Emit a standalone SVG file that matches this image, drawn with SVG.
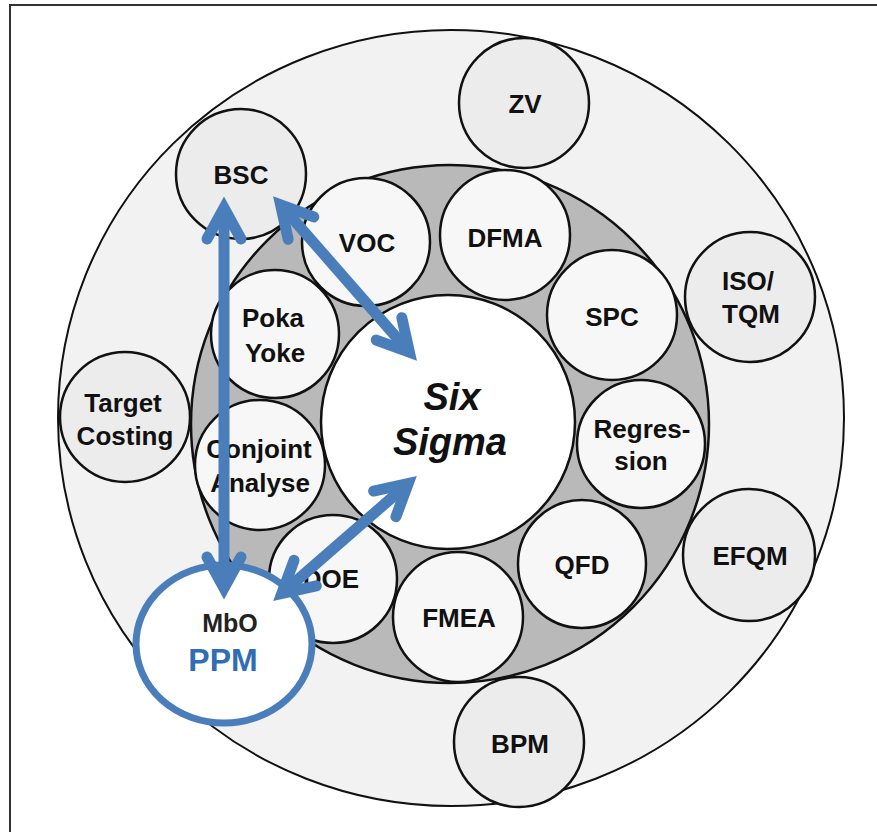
<svg xmlns="http://www.w3.org/2000/svg" width="877" height="832" viewBox="0 0 877 832">
  <style>
    .frame { fill: none; stroke: #333; stroke-width: 2; }
    .band { fill: #f2f2f2; stroke: #111; stroke-width: 2; }
    .ring { fill: #b9b9b9; stroke: #111; stroke-width: 2.5; }
    .outer { fill: #ececec; stroke: #111; stroke-width: 2.5; }
    .inner { fill: #f7f7f7; stroke: #111; stroke-width: 2.5; }
    .core { fill: #ffffff; stroke: #111; stroke-width: 2.5; }
    .focus { fill: #ffffff; stroke: #4a7ebb; stroke-width: 7; }
    .lbl { font-family: "Liberation Sans", Arial, sans-serif; font-weight: bold; font-size: 26px; fill: #111; text-anchor: middle; }
    .big { font-size: 38px; font-style: italic; }
    .mbo { font-size: 25px; fill: #222; }
    .ppm { font-size: 32px; fill: #2f6db5; }
    .arrow { fill: none; stroke: #4a7ebb; stroke-width: 11; marker-start: url(#head); marker-end: url(#head); }
  </style>
  <defs>
    <!-- open chevron head, vertex at the line end -->
    <marker id="head" markerUnits="userSpaceOnUse" orient="auto-start-reverse" refX="0" refY="0" markerWidth="1" markerHeight="1" overflow="visible">
      <path d="M -31,-17 L 0,0 L -31,17" fill="none" stroke="#4a7ebb" stroke-width="11" stroke-linecap="round" stroke-linejoin="miter" stroke-miterlimit="10"/>
    </marker>
  </defs>

  <rect width="877" height="832" fill="#ffffff"/>
  <path class="frame" d="M 10,832 V 5 H 877"/>

  <!-- background bands -->
  <ellipse class="band" cx="451" cy="418" rx="393" ry="388"/>
  <circle class="ring" cx="450" cy="424" r="259"/>

  <!-- outer methods -->
  <g id="zv"><circle class="outer" cx="524" cy="103" r="65"/><text class="lbl" x="525" y="113">ZV</text></g>
  <g id="bsc"><circle class="outer" cx="241" cy="174" r="65"/><text class="lbl" x="241" y="184">BSC</text></g>
  <g id="iso-tqm"><circle class="outer" cx="750" cy="297" r="65"/><text class="lbl" x="748" y="290">ISO/</text><text class="lbl" x="751" y="323">TQM</text></g>
  <g id="target-costing"><circle class="outer" cx="125" cy="417" r="65"/><text class="lbl" x="123" y="412">Target</text><text class="lbl" x="125" y="445">Costing</text></g>
  <g id="efqm"><circle class="outer" cx="749" cy="555" r="66"/><text class="lbl" x="750" y="565">EFQM</text></g>
  <g id="bpm"><circle class="outer" cx="519" cy="742" r="65"/><text class="lbl" x="520" y="753">BPM</text></g>

  <!-- inner ring methods -->
  <g id="voc"><circle class="inner" cx="366" cy="242" r="64"/><text class="lbl" x="367" y="252">VOC</text></g>
  <g id="dfma"><circle class="inner" cx="505" cy="235" r="65"/><text class="lbl" x="505" y="247">DFMA</text></g>
  <g id="spc"><circle class="inner" cx="612" cy="315" r="65"/><text class="lbl" x="612" y="326">SPC</text></g>
  <g id="regression"><circle class="inner" cx="641" cy="444" r="64"/><text class="lbl" x="642" y="438">Regres-</text><text class="lbl" x="641" y="470">sion</text></g>
  <g id="qfd"><circle class="inner" cx="582" cy="564" r="64"/><text class="lbl" x="582" y="574">QFD</text></g>
  <g id="fmea"><circle class="inner" cx="458" cy="617" r="65"/><text class="lbl" x="459" y="627">FMEA</text></g>
  <g id="doe"><circle class="inner" cx="333" cy="579" r="64"/><text class="lbl" x="331" y="588">DOE</text></g>
  <g id="conjoint"><circle class="inner" cx="260" cy="465" r="65"/><text class="lbl" x="259" y="458">Conjoint</text><text class="lbl" x="260" y="492">Analyse</text></g>
  <g id="poka-yoke"><circle class="inner" cx="275" cy="334" r="64"/><text class="lbl" x="273" y="327">Poka</text><text class="lbl" x="275" y="362">Yoke</text></g>

  <!-- centre -->
  <g id="six-sigma"><circle class="core" cx="448" cy="422" r="127"/><text class="lbl big" x="452" y="410">Six</text><text class="lbl big" x="450" y="455">Sigma</text></g>

  <!-- MbO / PPM -->
  <g id="mbo-ppm"><ellipse class="focus" cx="224" cy="644" rx="88" ry="79"/><text class="lbl mbo" x="230" y="632">MbO</text><text class="lbl ppm" x="223" y="671">PPM</text></g>

  <!-- connectors -->
  <g id="connectors">
    <line class="arrow" x1="224" y1="208" x2="224" y2="588"/>
    <line class="arrow" x1="280.6" y1="204.8" x2="409.4" y2="352.2"/>
    <line class="arrow" x1="281.8" y1="593.5" x2="408.2" y2="483.5"/>
  </g>
</svg>
